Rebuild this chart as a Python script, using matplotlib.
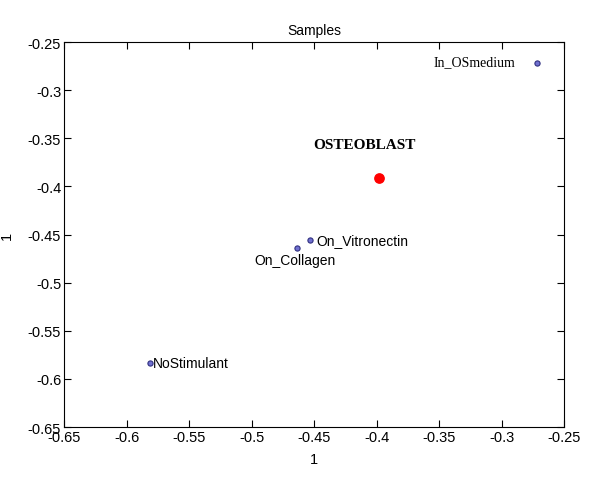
import matplotlib
matplotlib.use('Agg')
import matplotlib.pyplot as plt

# sample coordinates
names = ['In_OSmedium', 'On_Vitronectin', 'On_Collagen', 'NoStimulant']
xs = [-0.272, -0.453, -0.464, -0.581]
ys = [-0.272, -0.456, -0.464, -0.584]

ref_name = 'OSTEOBLAST'
ref_x, ref_y = -0.398, -0.391

ticks = [-0.65, -0.6, -0.55, -0.5, -0.45, -0.4, -0.35, -0.3, -0.25]
tick_labels = ['-0.65', '-0.6', '-0.55', '-0.5', '-0.45', '-0.4', '-0.35', '-0.3', '-0.25']

plt.rcParams['font.family'] = ['Liberation Sans', 'DejaVu Sans']

fig = plt.figure(figsize=(6, 4.85), dpi=100)
ax = fig.add_axes([0.1067, 0.1175, 0.8333, 0.7938])

ax.scatter(xs, ys, s=14, color='#7070d0', edgecolors='#303080', linewidths=0.8, zorder=3)
ax.scatter([ref_x], [ref_y], s=45, color='red', zorder=3)

# labels placed like the original
ax.text(xs[0] - 0.017, ys[0] + 0.002, names[0], family='Liberation Serif', fontsize=10,
        ha='right', va='center')
ax.text(xs[1] + 0.005, ys[1], names[1], fontsize=10, ha='left', va='center')
ax.text(xs[2] - 0.001, ys[2] - 0.0125, names[2], fontsize=10, ha='center', va='center')
ax.text(xs[3] + 0.002, ys[3], names[3], fontsize=10, ha='left', va='center')
ax.text(ref_x - 0.012, ref_y + 0.035, ref_name, family='Liberation Serif', fontsize=11,
        fontweight='bold', ha='center', va='center')

ax.set_xlim(-0.65, -0.25)
ax.set_ylim(-0.65, -0.25)
ax.set_xticks(ticks)
ax.set_xticklabels(tick_labels)
ax.set_yticks(ticks)
ax.set_yticklabels(tick_labels)
ax.tick_params(direction='in', top=True, right=True, labelsize=10.5, length=5, pad=2)

ax.set_title('Samples', fontsize=10, pad=6)
ax.set_xlabel('1', fontsize=10.5, labelpad=6)
ax.set_ylabel('1', fontsize=10.5, labelpad=10)

plt.savefig('out.png', dpi=100)
